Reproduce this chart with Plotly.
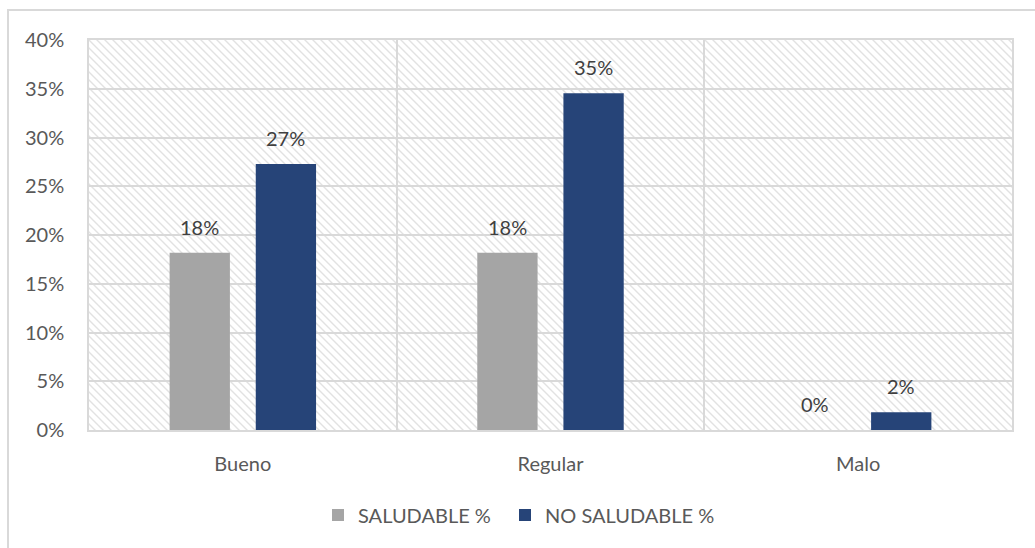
import base64
import plotly.graph_objects as go

# Survey results (share of respondents)
categories = ["Bueno", "Regular", "Malo"]
saludable = [10 / 55, 10 / 55, 0.0]
no_saludable = [15 / 55, 19 / 55, 1 / 55]
series_names = ["SALUDABLE %", "NO SALUDABLE %"]
y_ticks = [0, 0.05, 0.10, 0.15, 0.20, 0.25, 0.30, 0.35, 0.40]

W, H = 1035, 548
M = dict(l=89, r=23, t=40, b=118)
PW, PH = W - M["l"] - M["r"], H - M["t"] - M["b"]

GRAY = "#a5a5a5"
NAVY = "#264478"
GRID = "#d9d9d9"
TXT = "#595959"
FONT = "Lato, sans-serif"
FS = 20

# Diagonal hatch fill for the plotting area
svg = f"""<svg xmlns='http://www.w3.org/2000/svg' width='{PW}' height='{PH}'>
<defs><pattern id='h' width='8' height='8' patternUnits='userSpaceOnUse'>
<path d='M-2,-2 L10,10 M-2,6 L2,10 M6,-2 L10,2' stroke='#e2e2e2' stroke-width='1.4'/>
</pattern></defs>
<rect width='{PW}' height='{PH}' fill='#ffffff'/>
<rect width='{PW}' height='{PH}' fill='url(#h)'/>
</svg>"""
hatch_src = "data:image/svg+xml;base64," + base64.b64encode(svg.encode()).decode()

fig = go.Figure()
fig.add_trace(go.Bar(name=series_names[0], x=categories, y=saludable,
                     marker=dict(color=GRAY, line=dict(width=0)), legend="legend"))
fig.add_trace(go.Bar(name=series_names[1], x=categories, y=no_saludable,
                     marker=dict(color=NAVY, line=dict(width=0)), legend="legend2"))

# Value labels above each bar
offsets = [-0.14, 0.14]
for s, vals in enumerate([saludable, no_saludable]):
    for i, v in enumerate(vals):
        fig.add_annotation(x=i + offsets[s], y=v, text=f"{v:.0%}", showarrow=False,
                           yanchor="bottom", yshift=12,
                           font=dict(family=FONT, size=FS, color="#404040"))

fig.add_layout_image(source=hatch_src, xref="paper", yref="paper", x=0, y=1,
                     sizex=1, sizey=1, xanchor="left", yanchor="top",
                     sizing="stretch", layer="below")

# Outer chart frame
fig.add_shape(type="rect", xref="paper", yref="paper",
              x0=(8 - M["l"]) / PW, x1=1.2, y0=-0.6, y1=(PH + M["t"] - 10) / PH,
              line=dict(color=GRID, width=2), fillcolor="rgba(0,0,0,0)", layer="below")


def legend_at(px):
    return dict(orientation="h", x=(px - M["l"]) / PW, xanchor="left",
                y=-0.218, yanchor="middle", itemwidth=30,
                font=dict(family=FONT, size=FS, color=TXT))


fig.update_layout(
    width=W, height=H, margin=M,
    paper_bgcolor="white", plot_bgcolor="rgba(0,0,0,0)",
    barmode="group", bargap=0.44, bargroupgap=0.30,
    font=dict(family=FONT, size=FS, color=TXT),
    showlegend=True,
    legend=legend_at(318),
    legend2=legend_at(505),
    xaxis=dict(range=[-0.5, 2.5], tickson="boundaries", ticks="", showgrid=True,
               gridcolor=GRID, gridwidth=1.5, showline=True, linecolor=GRID,
               linewidth=1.5, mirror=True, ticklabelstandoff=15,
               tickfont=dict(family=FONT, size=FS, color=TXT)),
    yaxis=dict(range=[0, 0.40], tickvals=y_ticks, tickformat=".0%", showgrid=True,
               gridcolor=GRID, gridwidth=1.5, showline=True, linecolor=GRID,
               linewidth=1.5, mirror=True, zeroline=False, ticks="",
               ticklabelstandoff=19, tickfont=dict(family=FONT, size=FS, color=TXT)),
)

fig.write_html("out.html")
